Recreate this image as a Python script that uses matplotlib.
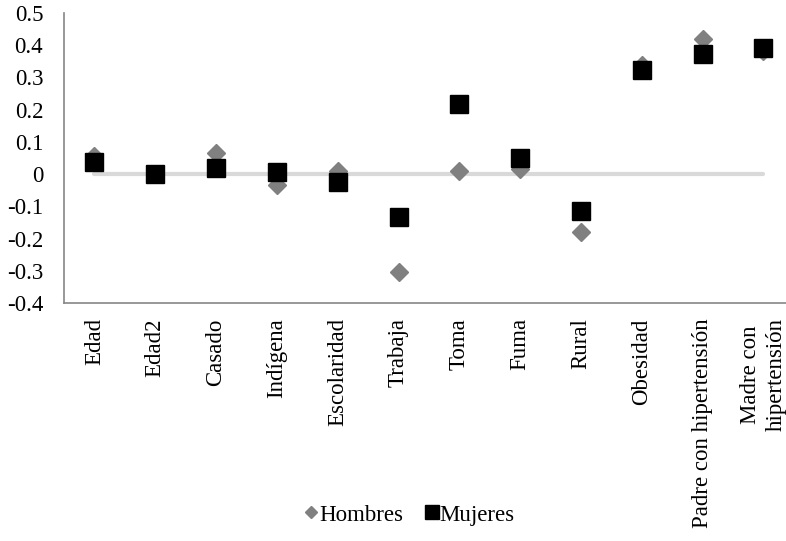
import matplotlib
matplotlib.use("Agg")
import matplotlib.pyplot as plt
from matplotlib.lines import Line2D

# categories and the two series
categories = ["Edad", "Edad2", "Casado", "Indígena", "Escolaridad", "Trabaja",
              "Toma", "Fuma", "Rural", "Obesidad", "Padre con hipertensión",
              "Madre con\nhipertensión"]
hombres = [0.056, 0.0, 0.067, -0.034, 0.010, -0.304, 0.009, 0.015, -0.180, 0.340, 0.420, 0.381]
mujeres = [0.038, 0.0, 0.018, 0.005, -0.026, -0.133, 0.217, 0.049, -0.113, 0.323, 0.373, 0.390]
zero_line = [0.0] * len(categories)

plt.rcParams['font.family'] = ['Liberation Serif', 'DejaVu Serif']
plt.rcParams['font.size'] = 16.5

fig = plt.figure(figsize=(7.86, 5.41), dpi=100)
ax = fig.add_axes([64/786, 1 - 303/541, 1 - 64/786, (303 - 13)/541])

x = list(range(len(categories)))

#gray reference line at zero
ax.plot(x, zero_line, color='#d9d9d9', linewidth=3, solid_capstyle='round', zorder=1)
ax.plot(x, hombres, linestyle='none', marker='D', markersize=9, color='#808080', zorder=2)
ax.plot(x, mujeres, linestyle='none', marker='s', markersize=12.5, color='black', zorder=3)

ax.set_xlim(-0.5, 11.37)
ax.set_ylim(-0.4, 0.5)
ax.set_yticks([-0.4, -0.3, -0.2, -0.1, 0, 0.1, 0.2, 0.3, 0.4, 0.5])
ax.set_yticklabels(['-0.4', '-0.3', '-0.2', '-0.1', '0', '0.1', '0.2', '0.3', '0.4', '0.5'])
ax.set_xticks(x)
ax.set_xticklabels(categories, rotation=90, va='top', ha='center', linespacing=1.3)
ax.tick_params(axis='x', length=0, pad=11)
ax.tick_params(axis='y', length=0, pad=15)

for side in ['top', 'right']:
    ax.spines[side].set_visible(False)
for side in ['left', 'bottom']:
    ax.spines[side].set_color('#868686')
    ax.spines[side].set_linewidth(1.2)

handles = [
    Line2D([], [], linestyle='none', marker='D', markersize=6, color='#808080'),
    Line2D([], [], linestyle='none', marker='s', markersize=10, color='black'),
]
fig.legend(handles, ['Hombres', 'Mujeres'], loc='center', ncol=2,
           bbox_to_anchor=(410/786, 1 - 515/541), frameon=False,
           handlelength=0.5, handletextpad=0.1, columnspacing=1.0)

fig.savefig('out.png', dpi=100)
